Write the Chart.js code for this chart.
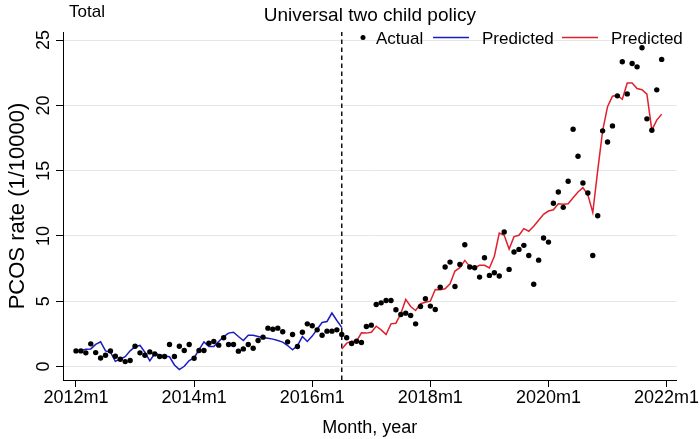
<!DOCTYPE html>
<html><head><meta charset="utf-8">
<script src="https://cdn.jsdelivr.net/npm/chart.js@4.4.0/dist/chart.umd.min.js"></script>
<style>html,body{margin:0;padding:0;background:#fff;}</style>
</head><body>
<canvas id="c" width="700" height="439" style="display:block;width:700px;height:439px"></canvas>
<script>
// month index 0 = 2012m1
const xTickMonths = [0, 24, 48, 72, 96, 120];
const xTickLabels = ['2012m1', '2014m1', '2016m1', '2018m1', '2020m1', '2022m1'];
const yTicks = [0, 5, 10, 15, 20, 25];
const yMin = -1.03, yMax = 25.62;
const xMin = -2.64, xMax = 122.03;
const policyMonth = 54;      // 2016m7
const blueStartMonth = 0;
const redStartMonth = 54;

const actual = [
  1.2, 1.2, 1.05, 1.74, 1.07, 0.66, 0.87, 1.2, 0.79, 0.56, 0.38, 0.46,
  1.56, 1.05, 0.87, 1.12, 0.97, 0.77, 0.77, 1.69, 0.77, 1.56, 1.23, 1.69,
  0.64, 1.23, 1.23, 1.79, 1.92, 1.64, 2.2, 1.69, 1.69, 1.18, 1.35, 1.69,
  1.4, 2.0, 2.25, 2.94, 2.86, 2.94, 2.66, 1.89, 2.45, 1.53, 2.63, 3.27,
  3.12, 2.81, 2.4, 2.71, 2.71, 2.81, 2.45, 2.2, 1.76, 1.94, 1.84, 3.07,
  3.17, 4.75, 4.88, 5.06, 5.06, 4.35, 3.99, 4.09, 3.91, 3.27, 4.6, 5.19,
  4.63, 4.37, 6.08, 7.62, 8.0, 6.13, 7.82, 9.33, 7.62, 7.57, 6.85, 8.33,
  6.98, 7.18, 6.93, 10.3, 7.44, 8.77, 8.97, 9.28, 8.51, 6.3, 8.15, 9.84,
  9.53, 12.5, 13.37, 12.19, 14.19, 18.17, 16.1, 14.06, 13.29, 8.51, 11.55, 18.05,
  17.2, 18.43, 20.73, 23.34, 20.88, 23.21, 22.95, 24.41, 18.97, 18.1, 21.19, 23.52
];
const predictedBefore = [
  1.2, 1.22, 1.32, 1.35, 1.7, 1.89, 1.2, 1.1, 0.4, 0.58, 0.76, 1.2,
  1.53, 1.62, 1.1, 0.43, 1.0, 0.88, 0.8, 0.75, 0.12, -0.23, 0.02, 0.46,
  0.66, 1.3, 1.89, 1.53, 1.53, 1.92, 2.3, 2.56, 2.63, 2.3, 1.99, 2.4,
  2.4, 2.3, 2.2, 2.17, 2.1, 1.99, 1.87, 1.61, 1.28, 1.61, 2.3, 1.92,
  2.33, 2.86, 3.37, 3.45, 4.1, 3.53, 3.0
];
const predictedAfter = [
  1.35, 1.79, 1.94, 1.94, 2.58, 2.56, 2.63, 3.09, 2.81, 2.45, 3.27, 3.32,
  4.04, 5.14, 4.6, 4.29, 4.81, 4.93, 5.01, 5.9, 5.88, 5.96, 6.34, 7.31,
  7.57, 8.13, 7.67, 7.57, 7.75, 7.75, 7.55, 8.45, 10.22, 10.05, 9.0, 9.95,
  10.05, 10.56, 10.36, 10.74, 11.2, 11.66, 11.91, 12.01, 12.47, 12.42, 12.47, 12.93,
  13.37, 13.7, 13.15, 11.8, 15.0, 18.05, 19.9, 20.7, 20.78, 20.47, 21.72, 21.72,
  21.29, 21.2, 20.86, 18.1, 18.87, 19.33
];

const BLUE = '#1c1cc0';
const RED = '#e0202c';
const FONT = '"Liberation Sans", Arial, sans-serif';

const textPlugin = {
  id: 'texts',
  afterDraw(chart) {
    const {ctx, chartArea: a, scales: {x, y}} = chart;
    ctx.save();
    ctx.fillStyle = '#000';
    // y tick labels (rotated)
    ctx.font = '18px ' + FONT;
    ctx.textAlign = 'center';
    ctx.textBaseline = 'alphabetic';
    yTicks.forEach(v => {
      const py = y.getPixelForValue(v);
      ctx.save();
      ctx.translate(a.left - 14, py);
      ctx.rotate(-Math.PI / 2);
      ctx.fillText(String(v), 0, 0);
      ctx.restore();
    });
    // y title
    ctx.save();
    ctx.font = '22px ' + FONT;
    ctx.translate(24, (a.top + a.bottom) / 2);
    ctx.rotate(-Math.PI / 2);
    ctx.fillText('PCOS rate (1/10000)', 0, 0);
    ctx.restore();
    // x title
    ctx.font = '18px ' + FONT;
    ctx.fillText('Month, year', (a.left + a.right) / 2, 432.5);
    // main title
    ctx.font = '19px ' + FONT;
    ctx.fillText('Universal two child policy', (a.left + a.right) / 2, 20.5);
    // "Total"
    ctx.font = '17px ' + FONT;
    ctx.textAlign = 'left';
    ctx.fillText('Total', 69, 17);
    // legend
    const ly = 43.5, lm = 37.6;
    ctx.beginPath();
    ctx.arc(363, lm, 2.5, 0, Math.PI * 2);
    ctx.fill();
    ctx.fillText('Actual', 376, ly);
    ctx.lineWidth = 1.5;
    ctx.strokeStyle = BLUE;
    ctx.beginPath(); ctx.moveTo(433, lm); ctx.lineTo(469, lm); ctx.stroke();
    ctx.fillText('Predicted', 482, ly);
    ctx.strokeStyle = RED;
    ctx.beginPath(); ctx.moveTo(562, lm); ctx.lineTo(598, lm); ctx.stroke();
    ctx.fillText('Predicted', 611, ly);
    ctx.restore();
  }
};

new Chart(document.getElementById('c'), {
  type: 'line',
  data: {
    datasets: [
      {
        label: 'Actual',
        data: actual.map((v, i) => ({x: i, y: v})),
        showLine: false,
        pointRadius: 2.7,
        pointBackgroundColor: '#000',
        pointBorderWidth: 0,
        order: 0
      },
      {
        label: 'Predicted',
        data: predictedBefore.map((v, i) => ({x: blueStartMonth + i, y: v})),
        borderColor: BLUE,
        borderWidth: 1.5,
        pointRadius: 0,
        tension: 0,
        order: 1
      },
      {
        label: 'Predicted',
        data: predictedAfter.map((v, i) => ({x: redStartMonth + i, y: v})),
        borderColor: RED,
        borderWidth: 1.5,
        pointRadius: 0,
        tension: 0,
        order: 2
      },
      {
        label: 'policy',
        data: [{x: policyMonth, y: yMin}, {x: policyMonth, y: yMax}],
        borderColor: '#000',
        borderWidth: 1.4,
        borderDash: [4.5, 3.5],
        pointRadius: 0,
        order: 3
      }
    ]
  },
  options: {
    responsive: false,
    animation: false,
    devicePixelRatio: 1,
    layout: {padding: {left: 0, right: 23, top: 32, bottom: 0}},
    plugins: {legend: {display: false}, tooltip: {enabled: false}, title: {display: false}},
    scales: {
      x: {
        type: 'linear',
        min: xMin, max: xMax,
        afterBuildTicks: s => { s.ticks = xTickMonths.map(v => ({value: v})); },
        afterFit: s => { s.height = 59; },
        ticks: {
          autoSkip: false, maxRotation: 0, minRotation: 0, padding: 0.5,
          color: '#000',
          font: {family: FONT, size: 18},
          callback: v => { const k = xTickMonths.indexOf(v); return k >= 0 ? xTickLabels[k] : ''; }
        },
        grid: {drawOnChartArea: false, drawTicks: true, tickLength: 7, tickColor: '#000', tickWidth: 1},
        border: {display: true, color: '#000', width: 1}
      },
      y: {
        type: 'linear',
        min: yMin, max: yMax,
        afterBuildTicks: s => { s.ticks = yTicks.map(v => ({value: v})); },
        afterFit: s => { s.width = 63; },
        ticks: {display: false},
        grid: {drawOnChartArea: true, color: '#e6e6e6', lineWidth: 1, drawTicks: true, tickLength: 7, tickColor: '#000', tickWidth: 1},
        border: {display: true, color: '#000', width: 1}
      }
    }
  },
  plugins: [textPlugin]
});
</script>
</body></html>
